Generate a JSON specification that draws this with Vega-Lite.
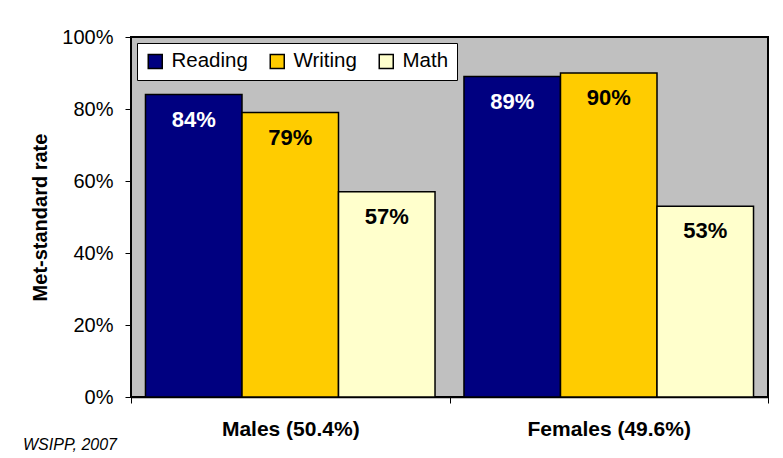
{
  "$schema": "https://vega.github.io/schema/vega-lite/v6.json",
  "width": 637,
  "height": 360,
  "autosize": {"type": "none"},
  "padding": {"left": 131, "top": 37, "right": 15, "bottom": 61},
  "background": "white",
  "title": {
    "text": "WSIPP, 2007",
    "orient": "bottom",
    "anchor": "start",
    "frame": "group",
    "dx": -108,
    "offset": -2,
    "fontSize": 16,
    "fontStyle": "italic",
    "fontWeight": "normal",
    "color": "black"
  },
  "data": {
    "values": [
      {"group": "Males (50.4%)", "subject": "Reading", "rate": 0.84},
      {"group": "Males (50.4%)", "subject": "Writing", "rate": 0.79},
      {"group": "Males (50.4%)", "subject": "Math", "rate": 0.57},
      {"group": "Females (49.6%)", "subject": "Reading", "rate": 0.89},
      {"group": "Females (49.6%)", "subject": "Writing", "rate": 0.90},
      {"group": "Females (49.6%)", "subject": "Math", "rate": 0.53}
    ]
  },
  "encoding": {
    "x": {
      "field": "group",
      "type": "nominal",
      "sort": ["Males (50.4%)", "Females (49.6%)"],
      "scale": {"paddingInner": 0, "paddingOuter": 0},
      "axis": {
        "title": null,
        "labelAngle": 0,
        "labelFontSize": 21,
        "labelFontWeight": "bold",
        "labelColor": "black",
        "labelPadding": 15,
        "tickBand": "extent",
        "tickSize": 6,
        "tickColor": "black",
        "domainColor": "black",
        "domainWidth": 1.5
      }
    },
    "xOffset": {
      "field": "subject",
      "type": "nominal",
      "sort": ["Reading", "Writing", "Math"],
      "scale": {"paddingInner": 0, "paddingOuter": 0.15}
    },
    "y": {
      "field": "rate",
      "type": "quantitative",
      "scale": {"domain": [0, 1]},
      "axis": {
        "title": "Met-standard rate",
        "titleFontSize": 20,
        "titleFontWeight": "bold",
        "titleColor": "black",
        "titlePadding": 11,
        "format": ".0%",
        "values": [0, 0.2, 0.4, 0.6, 0.8, 1],
        "labelFontSize": 20,
        "labelColor": "black",
        "labelPadding": 12,
        "tickSize": 6,
        "tickColor": "black",
        "domainColor": "black",
        "grid": false
      }
    }
  },
  "layer": [
    {
      "mark": {"type": "bar", "stroke": "black", "strokeWidth": 1.5},
      "encoding": {
        "color": {
          "field": "subject",
          "type": "nominal",
          "sort": ["Reading", "Writing", "Math"],
          "scale": {
            "domain": ["Reading", "Writing", "Math"],
            "range": ["#000080", "#FFCC00", "#FFFFCC"]
          },
          "legend": {
            "title": null,
            "orient": "none",
            "legendX": 6,
            "legendY": 6,
            "direction": "horizontal",
            "fillColor": "white",
            "strokeColor": "black",
            "padding": 8,
            "symbolType": "square",
            "symbolSize": 196,
            "symbolStrokeColor": "black",
            "symbolStrokeWidth": 1.5,
            "symbolOpacity": 1,
            "labelFontSize": 20.5,
            "labelColor": "black",
            "labelOffset": 6,
            "columnPadding": 19
          }
        }
      }
    },
    {
      "mark": {"type": "text", "dy": 25, "baseline": "middle", "fontSize": 22, "fontWeight": "bold"},
      "encoding": {
        "text": {"field": "rate", "type": "quantitative", "format": ".0%"},
        "color": {
          "condition": {"test": "datum.subject === 'Reading'", "value": "white"},
          "value": "black"
        }
      }
    }
  ],
  "config": {
    "font": "Liberation Sans",
    "view": {"fill": "#C0C0C0", "stroke": "black", "strokeWidth": 2}
  }
}
